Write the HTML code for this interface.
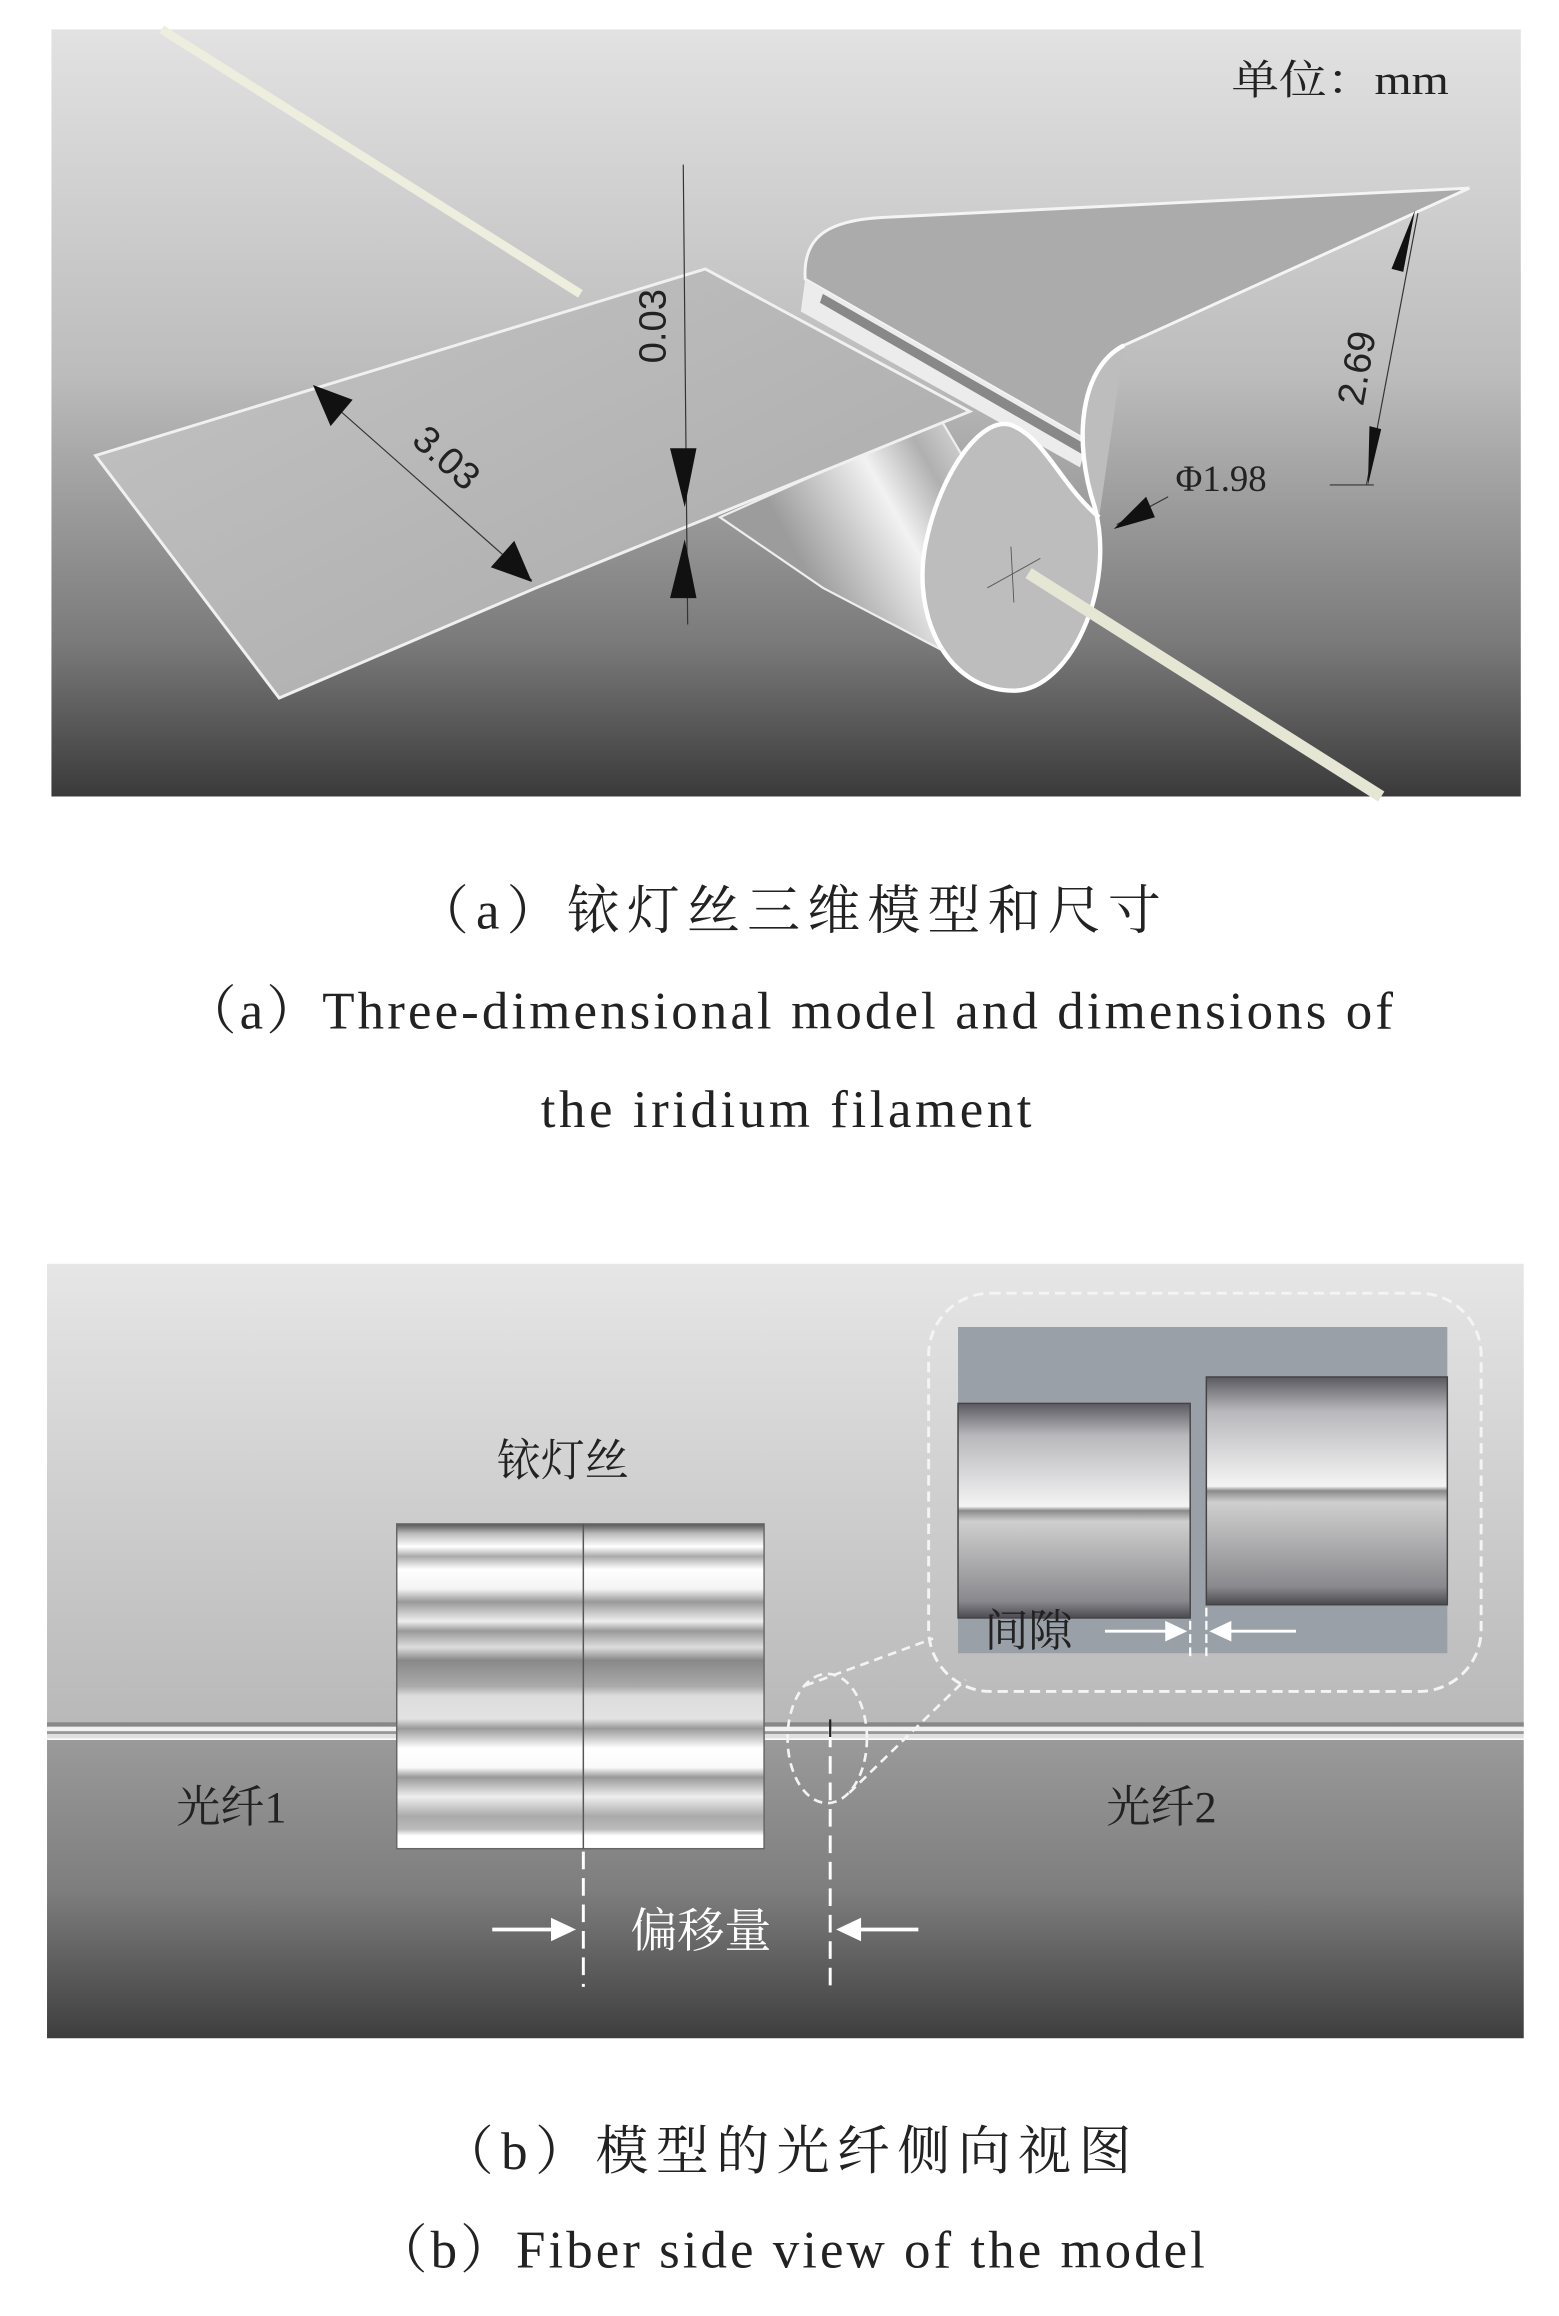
<!DOCTYPE html>
<html><head><meta charset="utf-8"><style>
html,body{margin:0;padding:0;background:#fff;}
svg{display:block;}
</style></head><body>
<svg width="1559" height="2316" viewBox="0 0 1061 1576" preserveAspectRatio="none" xmlns="http://www.w3.org/2000/svg" font-family="'Liberation Serif','Noto Serif CJK SC',serif">
<defs>
<linearGradient id="ga" x1="0" y1="0" x2="0" y2="1">
<stop offset="0" stop-color="#e2e2e2"/><stop offset="0.45" stop-color="#bcbcbc"/><stop offset="0.8" stop-color="#7a7a7a"/><stop offset="1" stop-color="#3a3a3a"/></linearGradient>
<linearGradient id="gbt" x1="0" y1="0" x2="0" y2="1">
<stop offset="0" stop-color="#e6e6e6"/><stop offset="1" stop-color="#b8b8b8"/></linearGradient>
<linearGradient id="gbb" x1="0" y1="0" x2="0" y2="1">
<stop offset="0" stop-color="#9a9a9a"/><stop offset="0.5" stop-color="#7e7e7e"/><stop offset="1" stop-color="#3e3e3e"/></linearGradient>
<linearGradient id="cyl" x1="0" y1="0" x2="0" y2="1">
<stop offset="0" stop-color="#5a5a60"/><stop offset="0.15" stop-color="#b8b8bc"/><stop offset="0.48" stop-color="#f4f4f4"/><stop offset="0.5" stop-color="#8a8a8a"/><stop offset="0.55" stop-color="#cfcfcf"/><stop offset="0.92" stop-color="#8a8a8e"/><stop offset="1" stop-color="#4a4a50"/></linearGradient>
<linearGradient id="sheet" x1="0" y1="0" x2="1" y2="1">
<stop offset="0" stop-color="#c4c4c4"/><stop offset="1" stop-color="#a8a8a8"/></linearGradient>
<linearGradient id="tube" x1="0" y1="0" x2="1" y2="-0.45">
<stop offset="0" stop-color="#9c9c9c"/><stop offset="0.3" stop-color="#f2f2f2"/><stop offset="0.45" stop-color="#b0b0b0"/><stop offset="0.7" stop-color="#f6f6f6"/><stop offset="1" stop-color="#a0a0a0"/></linearGradient>
<linearGradient id="fil" x1="0" y1="0" x2="0" y2="1">
<stop offset="0" stop-color="#555"/><stop offset="0.03" stop-color="#bbb"/><stop offset="0.07" stop-color="#fff"/><stop offset="0.1" stop-color="#aaa"/><stop offset="0.14" stop-color="#fff"/><stop offset="0.2" stop-color="#f4f4f4"/><stop offset="0.24" stop-color="#999"/><stop offset="0.3" stop-color="#eee"/><stop offset="0.33" stop-color="#999"/><stop offset="0.38" stop-color="#ddd"/><stop offset="0.42" stop-color="#888"/><stop offset="0.5" stop-color="#aaa"/><stop offset="0.53" stop-color="#ddd"/><stop offset="0.6" stop-color="#e2e2e2"/><stop offset="0.63" stop-color="#999"/><stop offset="0.69" stop-color="#fff"/><stop offset="0.75" stop-color="#fafafa"/><stop offset="0.78" stop-color="#999"/><stop offset="0.84" stop-color="#eee"/><stop offset="0.9" stop-color="#aaa"/><stop offset="0.94" stop-color="#bbb"/><stop offset="0.96" stop-color="#fff"/><stop offset="1" stop-color="#fff"/></linearGradient>
</defs>
<rect width="1061" height="1576" fill="#fff"/>
<!-- Panel a -->
<rect x="35" y="20" width="1000" height="522" fill="url(#ga)"/>
<line x1="110" y1="20" x2="395" y2="200" stroke="#eeeede" stroke-width="6"/>
<path d="M490,352 L640,285 L720,420 L690,468 L560,400 Z" fill="url(#tube)" stroke="#eee" stroke-width="1.5"/>
<path d="M548,190 C546,160 565,150 600,148 L1000,128 L765,235 C745,245 738,265 740,300 Z" fill="#ababab" stroke="#f4f4f4" stroke-width="2"/>
<path d="M548,190 L740,300 L735,318 L545,212 Z" fill="#ececec"/>
<path d="M560,200 L738,302 L738,310 L558,206 Z" fill="#888"/>
<path d="M765,235 C735,250 730,300 745,345 C760,400 728,470 690,470 C645,470 620,420 630,370 C640,320 670,280 690,290 C712,300 722,330 748,352" fill="#bdbdbd" stroke="#fff" stroke-width="3"/>
<line x1="700" y1="390" x2="940" y2="542" stroke="#e6e6d4" stroke-width="8"/>
<line x1="672" y1="400" x2="708" y2="380" stroke="#555" stroke-width="0.6"/>
<line x1="688" y1="372" x2="690" y2="410" stroke="#555" stroke-width="0.6"/>
<path d="M65,310 L480,183 L660,280 L365,400 L190,475 Z" fill="url(#sheet)" stroke="#f0f0f0" stroke-width="2"/>
<line x1="465" y1="112" x2="468" y2="425" stroke="#333" stroke-width="0.8"/>
<polygon points="456,305 474,305 466,345" fill="#111"/>
<polygon points="456,407 474,407 466,367" fill="#111"/>
<text transform="translate(453,222) rotate(-90)" font-size="26" fill="#222" text-anchor="middle" font-family="Liberation Sans,sans-serif">0.03</text>
<line x1="215" y1="265" x2="362" y2="395" stroke="#333" stroke-width="0.8"/>
<polygon points="213,262 240,272 225,290" fill="#111"/>
<polygon points="362,396 334,386 350,368" fill="#111"/>
<text transform="translate(298,318) rotate(42)" font-size="26" fill="#222" text-anchor="middle" font-family="Liberation Sans,sans-serif">3.03</text>
<line x1="965" y1="145" x2="930" y2="330" stroke="#333" stroke-width="0.8"/>
<polygon points="963,143 955,185 947,183" fill="#111"/>
<polygon points="931,330 932,290 940,292" fill="#111"/>
<line x1="905" y1="330" x2="935" y2="330" stroke="#333" stroke-width="0.8"/>
<text transform="translate(932,252) rotate(-80)" font-size="26" fill="#222" text-anchor="middle" font-family="Liberation Sans,sans-serif">2.69</text>
<text x="800" y="334" font-size="25" fill="#222">Φ1.98</text>
<line x1="760" y1="357" x2="795" y2="338" stroke="#333" stroke-width="0.8"/>
<polygon points="758,360 780,338 786,352" fill="#111"/>
<text x="838" y="64" font-size="28" fill="#222" textLength="148" lengthAdjust="spacingAndGlyphs">单位：mm</text>
<!-- captions a -->
<text x="283" y="632" font-size="36" fill="#222" textLength="507" lengthAdjust="spacing">（a）铱灯丝三维模型和尺寸</text>
<text x="125" y="700" font-size="36" fill="#222" textLength="823" lengthAdjust="spacing">（a）Three-dimensional model and dimensions of</text>
<text x="368" y="767" font-size="36" fill="#222" textLength="334" lengthAdjust="spacing">the iridium filament</text>
<!-- Panel b -->
<rect x="32" y="860" width="1005" height="316" fill="url(#gbt)"/>
<rect x="32" y="1184" width="1005" height="203" fill="url(#gbb)"/>
<rect x="32" y="1172" width="1005" height="3" fill="#888"/>
<rect x="32" y="1175" width="1005" height="3" fill="#f2f2f2"/>
<rect x="32" y="1178" width="1005" height="2" fill="#999"/>
<rect x="32" y="1180" width="1005" height="3" fill="#e0e0e0"/>
<rect x="270" y="1037" width="250" height="221" fill="url(#fil)"/>
<rect x="270" y="1037" width="250" height="221" fill="none" stroke="#666" stroke-width="1"/>
<line x1="397" y1="1037" x2="397" y2="1258" stroke="#555" stroke-width="1"/>
<text x="383" y="1004" font-size="30" fill="#222" text-anchor="middle">铱灯丝</text>
<text x="120" y="1240" font-size="30" fill="#222">光纤1</text>
<text x="753" y="1240" font-size="30" fill="#222">光纤2</text>
<line x1="397" y1="1260" x2="397" y2="1352" stroke="#fff" stroke-width="2" stroke-dasharray="12,6"/>
<line x1="565" y1="1177" x2="565" y2="1352" stroke="#fff" stroke-width="2" stroke-dasharray="12,6"/>
<line x1="565" y1="1170" x2="565" y2="1182" stroke="#222" stroke-width="1.5"/>
<line x1="335" y1="1313" x2="378" y2="1313" stroke="#fff" stroke-width="2.5"/>
<polygon points="392,1313 375,1305 375,1321" fill="#fff"/>
<line x1="625" y1="1313" x2="583" y2="1313" stroke="#fff" stroke-width="2.5"/>
<polygon points="569,1313 586,1305 586,1321" fill="#fff"/>
<text x="477" y="1325" font-size="32" fill="#fff" text-anchor="middle">偏移量</text>
<ellipse cx="563" cy="1183" rx="27" ry="44" fill="none" stroke="#f4f4f4" stroke-width="1.8" stroke-dasharray="6,4"/>
<line x1="548" y1="1147" x2="635" y2="1115" stroke="#f4f4f4" stroke-width="1.8" stroke-dasharray="6,4"/>
<line x1="578" y1="1220" x2="657" y2="1143" stroke="#f4f4f4" stroke-width="1.8" stroke-dasharray="6,4"/>
<rect x="652" y="903" width="333" height="222" fill="#9aa0a8"/>
<rect x="652" y="955" width="158" height="146" fill="url(#cyl)"/>
<rect x="652" y="955" width="158" height="146" fill="none" stroke="#444" stroke-width="1"/>
<rect x="821" y="937" width="164" height="155" fill="url(#cyl)"/>
<rect x="821" y="937" width="164" height="155" fill="none" stroke="#444" stroke-width="1"/>
<rect x="632" y="880" width="376" height="271" rx="42" fill="none" stroke="#f4f4f4" stroke-width="2" stroke-dasharray="7,4"/>
<text x="670" y="1120" font-size="30" fill="#222">间隙</text>
<line x1="810" y1="1103" x2="810" y2="1128" stroke="#fff" stroke-width="1.5" stroke-dasharray="6,3"/>
<line x1="821" y1="1094" x2="821" y2="1128" stroke="#fff" stroke-width="1.5" stroke-dasharray="6,3"/>
<line x1="752" y1="1110" x2="795" y2="1110" stroke="#fff" stroke-width="2"/>
<polygon points="808,1110 793,1103 793,1117" fill="#fff"/>
<line x1="882" y1="1110" x2="836" y2="1110" stroke="#fff" stroke-width="2"/>
<polygon points="823,1110 838,1103 838,1117" fill="#fff"/>
<!-- captions b -->
<text x="300" y="1476" font-size="36" fill="#222" textLength="470" lengthAdjust="spacing">（b）模型的光纤侧向视图</text>
<text x="255" y="1543" font-size="36" fill="#222" textLength="565" lengthAdjust="spacing">（b）Fiber side view of the model</text>
</svg>
</body></html>
